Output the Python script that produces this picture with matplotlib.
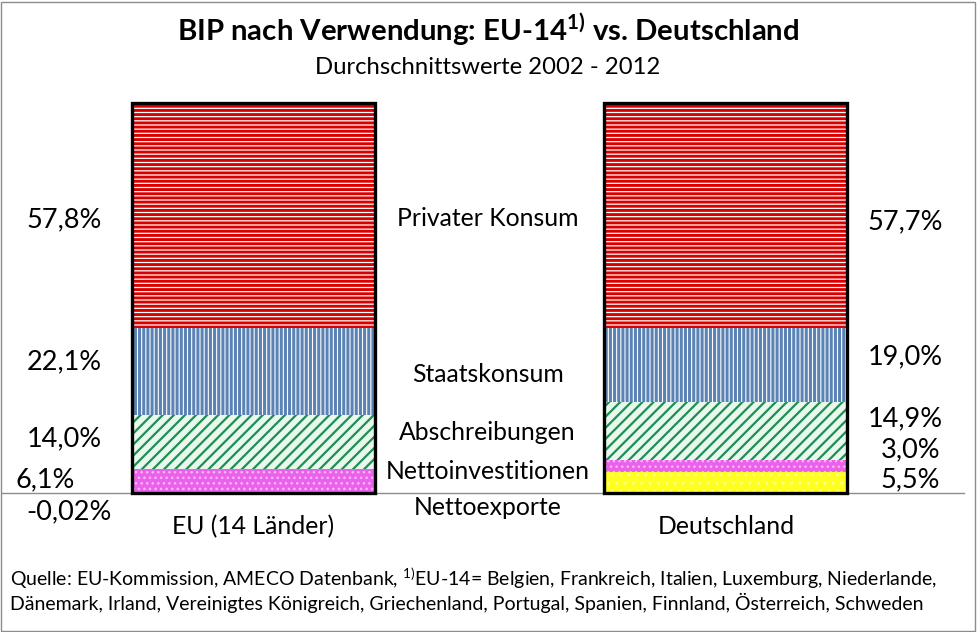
import matplotlib
matplotlib.use('Agg')
import matplotlib.pyplot as plt

# data (segments listed top to bottom as in the chart)
components = ['Privater Konsum', 'Staatskonsum', 'Abschreibungen',
              'Nettoinvestitionen', 'Nettoexporte']
countries = ['EU (14 Länder)', 'Deutschland']
eu_values = [57.8, 22.1, 14.0, 6.1, -0.02]
de_values = [57.7, 19.0, 14.9, 3.0, 5.5]
eu_labels = ['57,8%', '22,1%', '14,0%', '6,1%', '-0,02%']
de_labels = ['57,7%', '19,0%', '14,9%', '3,0%', '5,5%']

# styles: facecolor, hatch colour, hatch, hatch linewidth
styles = {
    'Privater Konsum':    ('white', '#d90000', '----', 2.1),
    'Staatskonsum':       ('white', '#5b82b4', '||||', 2.2),
    'Abschreibungen':     ('#e8f8ee', '#1e8f50', '///', 1.6),
    'Nettoinvestitionen': ('#ea62ea', '#ffb8ff', '...', 1.0),
    'Nettoexporte':       ('#ffff22', '#ffff99', '..', 0.8),
}

plt.rcParams['font.family'] = ['Lato', 'DejaVu Sans']
plt.rcParams['mathtext.default'] = 'regular'

fig = plt.figure(figsize=(9.77, 6.32), dpi=100)
ax = fig.add_axes([2 / 977, 139 / 632, 962 / 977, 390 / 632])
ax.set_xlim(-0.532, 1.504)
ax.set_ylim(0, 100)
ax.axis('off')

width = 0.514
for i, vals in enumerate([eu_values, de_values]):
    pos, neg = 0.0, 0.0
    for name, v in reversed(list(zip(components, vals))):
        fc, hc, hatch, hlw = styles[name]
        with plt.rc_context({'hatch.linewidth': hlw}):
            if v >= 0:
                bars = ax.bar(i, v, width, bottom=pos, color=fc, edgecolor=hc,
                              hatch=hatch, linewidth=0, zorder=2)
                pos += v
            else:
                bars = ax.bar(i, v, width, bottom=neg, color=fc, edgecolor=hc,
                              hatch=hatch, linewidth=0, zorder=2)
                neg += v
        for b in bars:
            if hasattr(b, 'set_hatch_linewidth'):
                b.set_hatch_linewidth(hlw)
    ax.bar(i, pos, width, fill=False, edgecolor='black', linewidth=2.4,
           zorder=4, clip_on=False)

ax.axhline(0, color='#8c8c8c', linewidth=1, zorder=3, clip_on=False)

# label placement (data units)
eu_lab_x = [-0.40, -0.40, -0.40, -0.44, -0.39]
eu_lab_y = [70.0, 33.6, 13.8, 3.3, -4.9]
mid_x = 0.496
mid_y = [70.3, 30.3, 15.4, 5.6, -3.6]
de_lab_x = [1.379, 1.379, 1.379, 1.39, 1.39]
de_lab_y = [69.5, 34.9, 19.0, 11.0, 3.3]

fs = 17.8
fs_num = 19.5
for lx, ly, t in zip(eu_lab_x, eu_lab_y, eu_labels):
    ax.text(lx, ly, t, ha='center', va='center', fontsize=fs_num, clip_on=False)
for ly, t in zip(mid_y, components):
    ax.text(mid_x, ly, t, ha='center', va='center', fontsize=fs, clip_on=False)
for lx, ly, t in zip(de_lab_x, de_lab_y, de_labels):
    ax.text(lx, ly, t, ha='center', va='center', fontsize=fs_num, clip_on=False)
for i, c in enumerate(countries):
    ax.text(i, -8.7, c, ha='center', va='center', fontsize=fs, clip_on=False)

fig.text(488 / 977, 1 - 30 / 632, 'BIP nach Verwendung: EU-14$^{1)}$ vs. Deutschland',
         ha='center', va='center', fontsize=21.2, fontweight='bold')
fig.text(488 / 977, 1 - 67 / 632, 'Durchschnittswerte 2002 - 2012',
         ha='center', va='center', fontsize=17.2)
fig.text(10 / 977, 1 - 578 / 632,
         'Quelle: EU-Kommission, AMECO Datenbank, $^{1)}$EU-14= Belgien, Frankreich, '
         'Italien, Luxemburg, Niederlande,',
         ha='left', va='center', fontsize=14)
fig.text(10 / 977, 1 - 603 / 632,
         'Dänemark, Irland, Vereinigtes Königreich, Griechenland, Portugal, Spanien, '
         'Finnland, Österreich, Schweden',
         ha='left', va='center', fontsize=14)

fig.patches.append(plt.Rectangle((0.5 / 977, 1.5 / 632), 974 / 977, 629 / 632,
                                 transform=fig.transFigure, fill=False,
                                 edgecolor='#8c8c8c', linewidth=1))

fig.savefig('out.png', dpi=100)
